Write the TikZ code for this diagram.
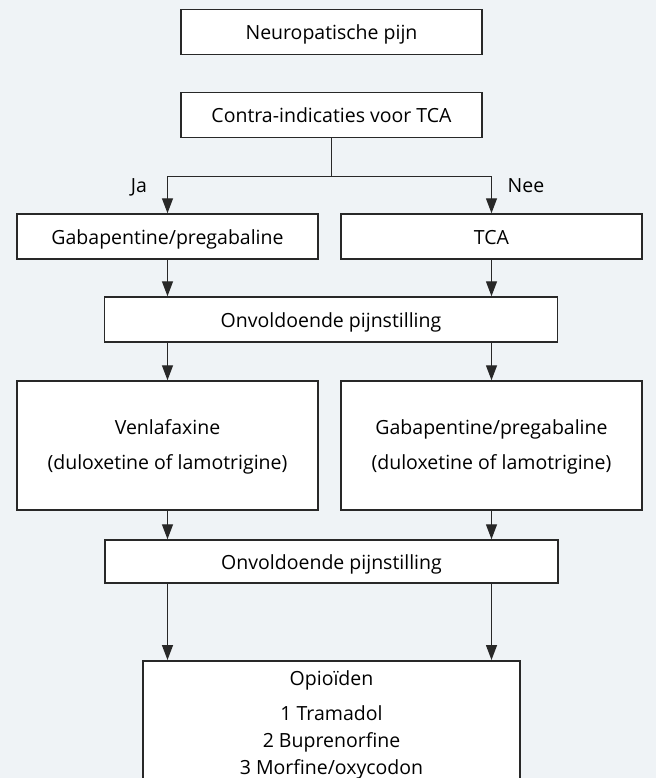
\documentclass[tikz,border=0pt]{standalone}
\usepackage{fontspec}
\setmainfont{Open Sans}
\usetikzlibrary{arrows.meta}
\definecolor{bg}{RGB}{239,243,246}
\definecolor{ln}{RGB}{40,40,40}
\begin{document}
\begin{tikzpicture}[x=1pt,y=-1pt,
  box/.style={draw=ln,line width=1.5pt,fill=white,minimum width=301pt,minimum height=45pt,inner sep=0pt,
    font=\fontsize{19.5}{23}\selectfont,text height=15pt,text depth=0pt},
  tallbox/.style={draw=ln,line width=1.5pt,fill=white,minimum width=301pt,minimum height=129pt,inner sep=0pt},
  txt/.style={font=\fontsize{19.5}{23}\selectfont,inner sep=0pt},
  arr/.style={draw=ln,line width=1.4pt,-{Triangle[length=15pt,width=11pt]}},
  conn/.style={draw=ln,line width=1.4pt}]
\fill[bg] (0,0) rectangle (656,778);
\useasboundingbox (0,0) rectangle (656,778);
\clip (0,0) rectangle (656,778);
% boxes
\node[box] (n1) at (331.5,32) {Neuropatische pijn};
\node[box] (n2) at (331.5,115) {Contra-indicaties voor TCA};
\node[box] (gab) at (167.5,236.5) {Gabapentine/pregabaline};
\node[box] (tca) at (491.5,236.5) {TCA};
\node[box,minimum width=453pt] (onv1) at (331,319.5) {Onvoldoende pijnstilling};
\node[tallbox] (ven) at (167.5,445.5) {};
\node[txt,anchor=base] (ven1) at (167.5,434) {Venlafaxine};
\node[txt,anchor=base] (ven2) at (167.5,469) {(duloxetine of lamotrigine)};
\node[tallbox] (gab2) at (491.5,445.5) {};
\node[txt,anchor=base] (gab21) at (491.5,434) {Gabapentine/pregabaline};
\node[txt,anchor=base] (gab22) at (491.5,469) {(duloxetine of lamotrigine)};
\node[box,minimum width=453pt,minimum height=43pt] (onv2) at (331.5,561.5) {Onvoldoende pijnstilling};
\node[draw=ln,line width=1.5pt,fill=white,minimum width=377pt,minimum height=150pt,inner sep=0pt,anchor=north] (opi) at (331.5,660) {};
\node[txt,anchor=base] (opi1) at (331.5,685) {Opioïden};
\node[txt,anchor=base] (opi2) at (331.5,720) {1 Tramadol};
\node[txt,anchor=base] (opi3) at (331.5,747) {2 Buprenorfine};
\node[txt,anchor=base] (opi4) at (331.5,774) {3 Morfine/oxycodon};
% labels
\node[txt,anchor=base] (ja) at (139,192) {Ja};
\node[txt,anchor=base] (nee) at (526,192) {Nee};
% connectors
\draw[conn] (n2.south) -- ++(0,38) coordinate (split);
\draw[arr] (split) -| (gab.north);
\draw[arr] (split) -| (tca.north);
\draw[arr] (gab.south) -- (gab.south |- onv1.north);
\draw[arr] (tca.south) -- (tca.south |- onv1.north);
\draw[arr] (onv1.south -| ven.north) -- (ven.north);
\draw[arr] (onv1.south -| gab2.north) -- (gab2.north);
\draw[arr] (ven.south) -- (ven.south |- onv2.north);
\draw[arr] (gab2.south) -- (gab2.south |- onv2.north);
\draw[arr] (onv2.south -| ven.south) -- (opi.north -| ven.south);
\draw[arr] (onv2.south -| gab2.south) -- (opi.north -| gab2.south);
\end{tikzpicture}
\end{document}
